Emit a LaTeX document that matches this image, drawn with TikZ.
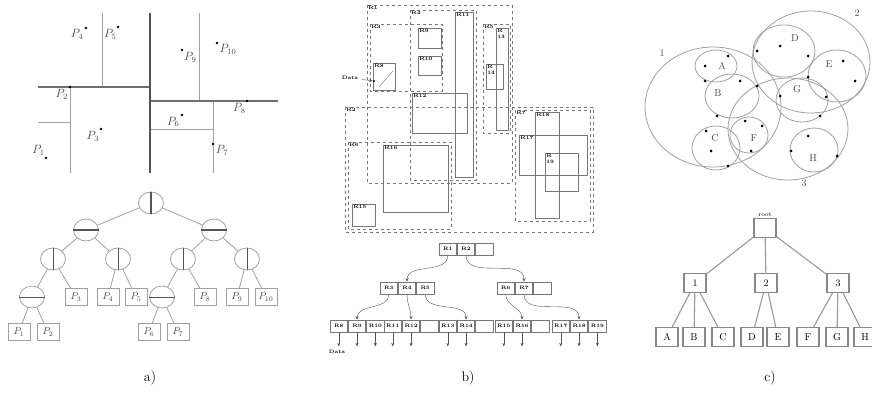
\documentclass[tikz,border=0pt]{standalone}
\usepackage{tikz}
\usetikzlibrary{shapes.geometric, arrows.meta, positioning}
\definecolor{cLine}{RGB}{160,160,160}
\definecolor{cDark}{RGB}{85,85,85}
\definecolor{cText}{RGB}{70,70,70}
\tikzset{
	% kd-tree styles
	cut/.style      ={cLine, line width=1pt},
	mcut/.style     ={cDark!85, line width=1.8pt},
	bcut/.style     ={cDark, line width=2.6pt},
	pnt/.style      ={circle, fill=black, minimum size=2.8pt, inner sep=0pt},
	plab/.style     ={font=\fontsize{12}{14}\selectfont, text=cText, inner sep=1pt},
	splitnode/.style={ellipse, draw=cLine, thick, fill=white, minimum width=25pt, minimum height=22pt, inner sep=0pt},
	leaf/.style     ={rectangle, draw=cLine, thick, minimum width=22pt, minimum height=17pt, inner sep=0pt, font=\fontsize{10}{12}\selectfont, text=cText},
	branch/.style   ={cLine, thick},
	% r-tree styles
	mbr/.style      ={draw=cDark!80, dashed, thick},
	obj/.style      ={draw=cDark!80, thick},
	rlab/.style     ={font=\fontsize{5}{6}\selectfont\bfseries, inner sep=1pt, anchor=north west, align=left},
	cell/.style     ={rectangle, draw=cDark!80, thick, minimum width=17.5pt, minimum height=12pt, inner sep=0pt, font=\fontsize{5}{6}\selectfont\bfseries},
	ptr/.style      ={-{Stealth[length=3.5pt, width=3pt]}, cDark},
	% sphere-tree styles
	ball/.style     ={cLine, thick},
	blab/.style     ={font=\fontsize{10}{12}\selectfont, text=cText, inner sep=0pt},
	sbox/.style     ={rectangle, draw=cDark!70, line width=1.2pt, minimum width=22pt, minimum height=19pt, inner sep=0pt, font=\fontsize{10}{12}\selectfont},
	twig/.style     ={cDark!60, line width=1.1pt},
	caption/.style  ={font=\fontsize{14}{17}\selectfont},
}

\begin{document}
\begin{tikzpicture}[x=1pt, y=1pt]
	\useasboundingbox (0,0) rectangle (872,-398);

	% a) partition of the plane
	\draw[cut]  (102,-13) -- (102,-87);
	\draw[cut]  (70,-87) -- (70,-173);
	\draw[cut]  (38,-123) -- (70,-123);
	\draw[cut]  (199,-13) -- (199,-101);
	\draw[cut]  (213,-101) -- (213,-173);
	\draw[cut]  (150,-130) -- (213,-130);
	\draw[mcut] (38,-87) -- (150,-87);
	\draw[mcut] (150,-101) -- (278,-101);
	\draw[bcut] (150,-13) -- (150,-173);
	\node[pnt, label={[plab]195:$P_4$}]           (p4)  at (86,-28)  {};
	\node[pnt, label={[plab]-105:$P_5$}]          (p5)  at (118,-27) {};
	\node[pnt, label={[plab]-60:$P_9$}]           (p9)  at (182,-50) {};
	\node[pnt, label={[plab]-15:$P_{10}$}]        (p10) at (217,-43) {};
	\node[pnt, label={[plab]-125:$P_2$}]          (p2)  at (70,-87)  {};
	\node[pnt, label={[plab]-100:$P_8$}]          (p8)  at (247,-101) {};
	\node[pnt, label={[plab]-150:$P_6$}]          (p6)  at (182,-115) {};
	\node[pnt, label={[plab]-120:$P_3$}]          (p3)  at (101,-129) {};
	\node[pnt, label={[plab]-10:$P_7$}]           (p7)  at (213,-144) {};
	\node[pnt, label={[plab]95:$P_1$}]            (p1)  at (46,-158) {};

	% a) kd-tree
	\node[splitnode] (k0) at (151,-203) {};
	\node[splitnode] (k1) at (86,-230)  {};
	\node[splitnode] (k2) at (214,-230) {};
	\node[splitnode] (k3) at (53,-259)  {};
	\node[splitnode] (k4) at (118,-259) {};
	\node[splitnode] (k5) at (183,-259) {};
	\node[splitnode] (k6) at (247,-259) {};
	\node[splitnode] (k7) at (32,-297)  {};
	\node[splitnode] (k8) at (162,-297) {};
	\node[leaf] (q3)  at (76,-297)  {$P_3$};
	\node[leaf] (q4)  at (108,-297) {$P_4$};
	\node[leaf] (q5)  at (136,-297) {$P_5$};
	\node[leaf] (q8)  at (205,-297) {$P_8$};
	\node[leaf] (q9)  at (237,-297) {$P_9$};
	\node[leaf] (q10) at (266,-297) {$P_{10}$};
	\node[leaf] (q1)  at (19,-332)  {$P_1$};
	\node[leaf] (q2)  at (48,-332)  {$P_2$};
	\node[leaf] (q6)  at (149,-332) {$P_6$};
	\node[leaf] (q7)  at (178,-332) {$P_7$};
	\foreach \a/\b in {k0/k1, k0/k2, k1/k3, k1/k4, k2/k5, k2/k6, k3/k7, k3/q3, k4/q4, k4/q5,
		k5/k8, k5/q8, k6/q9, k6/q10, k7/q1, k7/q2, k8/q6, k8/q7}
		\draw[branch] (\a) -- (\b);
	\draw[cDark, line width=2pt] (k0.north) -- (k0.south);
	\draw[cDark, line width=1.6pt] (k1.west) -- (k1.east);
	\draw[cDark, line width=1.6pt] (k2.west) -- (k2.east);
	\foreach \k in {k3, k4, k5, k6}
		\draw[cDark, line width=1pt] (\k.north) -- (\k.south);
	\draw[cDark, thin] (k7.west) -- (k7.east);
	\draw[cDark, thin] (k8.west) -- (k8.east);

	% b) rectangles of the R-tree
	\draw[mbr] (367,-5)   node[rlab] (n1) {R1} rectangle (512,-183);
	\draw[mbr] (370,-24)  node[rlab] (n3) {R3} rectangle (442,-91);
	\draw[mbr] (410,-10)  node[rlab] (n4) {R4} rectangle (476,-180);
	\draw[mbr] (483,-24)  node[rlab] (n5) {R5} rectangle (510,-133);
	\draw[mbr] (345,-107) node[rlab] (n2) {R2} rectangle (593,-232);
	\draw[mbr] (348,-142) node[rlab] (n6) {R6} rectangle (451,-229);
	\draw[mbr] (515,-110) node[rlab] (n7) {R7} rectangle (590,-221);
	\draw[obj] (373,-63)  node[rlab] (n8)  {R8}  rectangle (395,-90);
	\draw[obj] (418,-28)  node[rlab] (n9)  {R9}  rectangle (441,-48);
	\draw[obj] (418,-56)  node[rlab] (n10) {R10} rectangle (441,-75);
	\draw[obj] (455,-12)  node[rlab] (n11) {R11} rectangle (473,-177);
	\draw[obj] (412,-93)  node[rlab] (n12) {R12} rectangle (467,-133);
	\draw[obj] (496,-28)  node[rlab] (n13) {R\\13} rectangle (508,-130);
	\draw[obj] (486,-64)  node[rlab] (n14) {R\\14} rectangle (503,-89);
	\draw[obj] (352,-204) node[rlab] (n15) {R15} rectangle (375,-226);
	\draw[obj] (383,-145) node[rlab] (n16) {R16} rectangle (448,-212);
	\draw[obj] (519,-135) node[rlab] (n17) {R17} rectangle (587,-175);
	\draw[obj] (535,-112) node[rlab] (n18) {R18} rectangle (559,-218);
	\draw[obj] (545,-153) node[rlab] (n19) {R\\19} rectangle (578,-191);
	\draw[obj, thin] (379,-87) -- (393,-71);
	\node[pnt, minimum size=2.2pt] (dp) at (374,-81) {};
	\node[font=\fontsize{5}{6}\selectfont\bfseries] (data) at (350,-78) {Data};
	\draw[ptr] (data) -- (dp);

	% b) R-tree
	\node[cell] (c1) at (447.75,-249) {R1};
	\node[cell, right=0pt of c1] (c2) {R2};
	\node[cell, right=0pt of c2] (e0) {};
	\node[cell] (c3) at (388.75,-288) {R3};
	\node[cell, right=0pt of c3] (c4) {R4};
	\node[cell, right=0pt of c4] (c5) {R5};
	\node[cell] (c6) at (505.75,-288) {R6};
	\node[cell, right=0pt of c6] (c7) {R7};
	\node[cell, right=0pt of c7] (e1) {};
	\node[cell] (c8) at (338.75,-326) {R8};
	\node[cell, right=0pt of c8]  (c9)  {R9};
	\node[cell, right=0pt of c9]  (c10) {R10};
	\node[cell] (c11) at (392.75,-326) {R11};
	\node[cell, right=0pt of c11] (c12) {R12};
	\node[cell, right=0pt of c12] (e2)  {};
	\node[cell] (c13) at (447.75,-326) {R13};
	\node[cell, right=0pt of c13] (c14) {R14};
	\node[cell, right=0pt of c14] (e3)  {};
	\node[cell] (c15) at (503.75,-326) {R15};
	\node[cell, right=0pt of c15] (c16) {R16};
	\node[cell, right=0pt of c16] (e4)  {};
	\node[cell] (c17) at (560.75,-326) {R17};
	\node[cell, right=0pt of c17] (c18) {R18};
	\node[cell, right=0pt of c18] (c19) {R19};
	\foreach \a/\b in {c1/c4, c2/c7, c3/c9, c4/c12, c5/c14, c6/c16, c7/c18}
		\draw[ptr] (\a.south) to[out=-90, in=90] (\b.north);
	\foreach \c in {c8, c9, c10, c11, c12, c13, c14, c15, c16, c17, c18, c19} {
		\coordinate (d\c) at ([yshift=-14pt]\c.south);
		\draw[ptr] (\c.south) -- (d\c);
	}
	\node[font=\fontsize{5}{6}\selectfont\bfseries] (data2) at (337,-352) {Data};

	% c) bounding spheres
	\draw[ball] (713,-107) ellipse [x radius=68pt, y radius=60pt];
	\draw[ball] (811,-62)  ellipse [x radius=59pt, y radius=51pt];
	\draw[ball] (788,-129) ellipse [x radius=60pt, y radius=51pt];
	\draw[ball] (716,-66)  ellipse [x radius=21pt, y radius=16pt];
	\draw[ball] (732,-96)  ellipse [x radius=27pt, y radius=22pt];
	\draw[ball] (716,-148) ellipse [x radius=24pt, y radius=22pt];
	\draw[ball] (784,-51)  ellipse [x radius=31pt, y radius=26pt];
	\draw[ball] (837,-76)  ellipse [x radius=29pt, y radius=26pt];
	\draw[ball] (749,-135) ellipse [x radius=19pt, y radius=18pt];
	\draw[ball] (802,-100) ellipse [x radius=26pt, y radius=22pt];
	\draw[ball] (814,-150) ellipse [x radius=24pt, y radius=22pt];
	\foreach \x/\y in {705/66, 728/56, 705/81, 740/81, 717/116, 757/86, 706/131, 711/151, 728/166,
		780/46, 808/56, 757/51, 843/61, 855/81, 808/77, 745/121, 762/126, 751/151,
		780/96, 826/97, 820/116, 808/136, 791/151, 837/156}
		\fill (\x,-\y) circle (1.5pt);
	\node[blab] (la) at (722,-66)  {A};
	\node[blab] (lb) at (718,-93)  {B};
	\node[blab] (lc) at (715,-138) {C};
	\node[blab] (ld) at (795,-38)  {D};
	\node[blab] (le) at (829,-64)  {E};
	\node[blab] (lf) at (754,-138) {F};
	\node[blab] (lg) at (797,-89)  {G};
	\node[blab] (lh) at (813,-158) {H};
	\node[blab] (l1) at (662,-53)  {1};
	\node[blab] (l2) at (857,-13)  {2};
	\node[blab] (l3) at (804,-183) {3};

	% c) sphere tree
	\node[sbox, label={[font=\fontsize{6}{7}\selectfont, inner sep=1pt]above:root}] (sr) at (765,-228) {};
	\node[sbox] (s1) at (695,-283) {1};
	\node[sbox] (s2) at (766,-283) {2};
	\node[sbox] (s3) at (838,-283) {3};
	\node[sbox] (sa) at (667,-337) {A};
	\node[sbox] (sb) at (694,-337) {B};
	\node[sbox] (sc) at (723,-337) {C};
	\node[sbox] (sd) at (752,-337) {D};
	\node[sbox] (se) at (778,-337) {E};
	\node[sbox] (sf) at (808,-337) {F};
	\node[sbox] (sg) at (837,-337) {G};
	\node[sbox] (sh) at (865,-337) {H};
	\foreach \a/\b in {sr/s1, sr/s2, sr/s3, s1/sa, s1/sb, s1/sc, s2/sd, s2/se, s3/sf, s3/sg, s3/sh}
		\draw[twig] (\a) -- (\b);

	% captions
	\node[caption] (capa) at (150,-378) {a)};
	\node[caption] (capb) at (468,-378) {b)};
	\node[caption] (capc) at (770,-378) {c)};
\end{tikzpicture}
\end{document}
